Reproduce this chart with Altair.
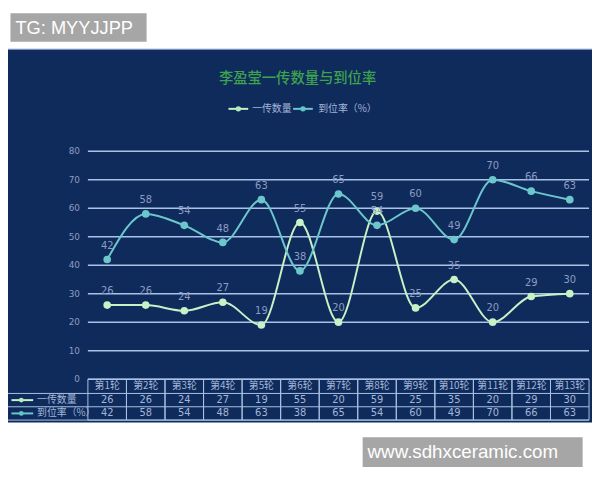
import altair as alt
import pandas as pd

# ---------------- data ----------------
rounds = ["第1轮", "第2轮", "第3轮", "第4轮", "第5轮", "第6轮", "第7轮",
          "第8轮", "第9轮", "第10轮", "第11轮", "第12轮", "第13轮"]
yichuan = [26, 26, 24, 27, 19, 55, 20, 59, 25, 35, 20, 29, 30]
daowei = [42, 58, 54, 48, 63, 38, 65, 54, 60, 49, 70, 66, 63]
series_names = ["一传数量", "到位率（%）"]
y_ticks = [0, 10, 20, 30, 40, 50, 60, 70, 80]
title_text = "李盈莹一传数量与到位率"
wm_top = "TG: MYYJJPP"
wm_bottom = "www.sdhxceramic.com"

# ---------------- styling ----------------
NAVY = "#0f2b5c"
GRID = "#a9c3e6"
LINE_COLORS = ["#c6f2c6", "#6cc7cc"]
POINT_COLORS = ["#b6ecbc", "#5ec8c8"]
LABEL = "#8d9dc2"
TABLE_TXT = "#a4b6d8"
CJK = "Noto Sans CJK SC"

W, H = 508, 231
PAD_L, PAD_T = 81, 142
OX = 88.5  # page x of plot origin

long_df = pd.DataFrame({
    "round": rounds * 2,
    "series": [series_names[0]] * len(rounds) + [series_names[1]] * len(rounds),
    "value": yichuan + daowei,
})
wide_df = pd.DataFrame({"round": rounds, "v1": yichuan, "v2": daowei})
tick_df = pd.DataFrame({"v": y_ticks})
one = pd.DataFrame({"a": [0]})

xscale = alt.Scale(type="band", domain=rounds, paddingInner=0, paddingOuter=0)
yscale = alt.Scale(domain=[0, 80], nice=False, zero=True)
cscale = alt.Scale(domain=series_names, range=LINE_COLORS)
pscale = alt.Scale(domain=series_names, range=POINT_COLORS)

XC = alt.X("round:N", scale=xscale, axis=None, bandPosition=0.5)
XB = alt.X("round:N", scale=xscale, axis=None)

# background panel
bg = alt.Chart(one).mark_rect(color=NAVY).encode(
    x=alt.value(-81), x2=alt.value(W + 5), y=alt.value(-103.5), y2=alt.value(275))
bg_top = alt.Chart(one).mark_rule(color="#8fa6d6", strokeWidth=1).encode(
    x=alt.value(-81), x2=alt.value(W + 5), y=alt.value(-103.5))

# watermarks
wm1_box = alt.Chart(one).mark_rect(color="#a6a6a6").encode(
    x=alt.value(10 - OX), x2=alt.value(148 - OX), y=alt.value(-140), y2=alt.value(-111))
wm1_txt = alt.Chart(one).mark_text(text=wm_top, color="white", font="Liberation Sans",
                                   fontSize=18.5, align="left", baseline="middle").encode(
    x=alt.value(15 - OX), y=alt.value(-125))
wm2_box = alt.Chart(one).mark_rect(color="#a6a6a6").encode(
    x=alt.value(367 - OX), x2=alt.value(590 - OX), y=alt.value(290), y2=alt.value(320))
wm2_txt = alt.Chart(one).mark_text(text=wm_bottom, color="white", font="Liberation Sans",
                                   fontSize=19, align="left", baseline="middle").encode(
    x=alt.value(372 - OX), y=alt.value(305))

# title and legend
title = alt.Chart(one).mark_text(text=title_text, color="#3ea24e", font=CJK,
                                 fontSize=14.5, fontWeight=500).encode(
    x=alt.value(301 - OX), y=alt.value(-73))
leg = []
for cx, tx, col, pcol, name in [(241, 255, LINE_COLORS[0], POINT_COLORS[0], series_names[0]),
                                (306.5, 322, LINE_COLORS[1], POINT_COLORS[1], series_names[1])]:
    leg.append(alt.Chart(one).mark_rule(color=col, strokeWidth=2).encode(
        x=alt.value(cx - 10 - OX), x2=alt.value(cx + 10 - OX), y=alt.value(-43)))
    leg.append(alt.Chart(one).mark_point(filled=True, opacity=1, color=pcol, size=30).encode(
        x=alt.value(cx - OX), y=alt.value(-43)))
    leg.append(alt.Chart(one).mark_text(text=name, color=TABLE_TXT, font=CJK, fontSize=10,
                                        align="left", baseline="middle").encode(
        x=alt.value(tx - OX), y=alt.value(-43)))

# gridlines + y labels
grid = alt.Chart(tick_df).mark_rule(color=GRID, strokeWidth=1.5).encode(
    y=alt.Y("v:Q", scale=yscale, axis=None), x=alt.value(0), x2=alt.value(W))
ylab = alt.Chart(tick_df).mark_text(color=LABEL, fontSize=9, align="right",
                                    baseline="middle", font="DejaVu Sans").encode(
    y=alt.Y("v:Q", scale=yscale, axis=None), x=alt.value(-8), text="v:Q")

# lines, points, labels
lines = alt.Chart(long_df).mark_line(interpolate="monotone", strokeWidth=2).encode(
    x=XC, y=alt.Y("value:Q", scale=yscale, axis=None),
    color=alt.Color("series:N", scale=cscale, legend=None))
pts = alt.Chart(long_df).mark_point(filled=True, opacity=1, size=60).encode(
    x=XC, y=alt.Y("value:Q", scale=yscale, axis=None),
    color=alt.Color("series:N", scale=pscale, legend=None))
vlab = alt.Chart(long_df).mark_text(color=LABEL, fontSize=10, dy=-14,
                                    font="DejaVu Sans").encode(
    x=XC, y=alt.Y("value:Q", scale=yscale, axis=None), text="value:Q")

# table
R0, R1, R2, R3 = 231, 245.5, 259, 272.5
cells = alt.Chart(wide_df).mark_rect(fill=NAVY, fillOpacity=0, stroke=GRID, strokeWidth=1).encode(
    x=XB, y=alt.value(R0), y2=alt.value(R3))
hrules = alt.Chart(one).mark_rule(color=GRID, strokeWidth=1).encode(
    x=alt.value(-81.5), x2=alt.value(W), y=alt.value(R1))
hrules2 = alt.Chart(one).mark_rule(color=GRID, strokeWidth=1).encode(
    x=alt.value(-81.5), x2=alt.value(W), y=alt.value(R2))
hrules3 = alt.Chart(one).mark_rule(color=GRID, strokeWidth=1).encode(
    x=alt.value(-81.5), x2=alt.value(W), y=alt.value(R3))
vleft = alt.Chart(one).mark_rule(color=GRID, strokeWidth=1).encode(
    x=alt.value(-81.5), y=alt.value(R1), y2=alt.value(R3))
head = alt.Chart(wide_df).mark_text(color=TABLE_TXT, font=CJK, fontSize=10,
                                    baseline="middle").encode(
    x=XC, y=alt.value((R0 + R1) / 2), text="round:N")
row1 = alt.Chart(wide_df).mark_text(color=TABLE_TXT, fontSize=10, font="DejaVu Sans",
                                    baseline="middle").encode(
    x=XC, y=alt.value((R1 + R2) / 2), text="v1:Q")
row2 = alt.Chart(wide_df).mark_text(color=TABLE_TXT, fontSize=10, font="DejaVu Sans",
                                    baseline="middle").encode(
    x=XC, y=alt.value((R2 + R3) / 2), text="v2:Q")
tleg = []
for yy, col, pcol, name in [((R1 + R2) / 2, LINE_COLORS[0], POINT_COLORS[0], series_names[0]),
                            ((R2 + R3) / 2, LINE_COLORS[1], POINT_COLORS[1], series_names[1])]:
    tleg.append(alt.Chart(one).mark_rule(color=col, strokeWidth=2).encode(
        x=alt.value(11 - OX), x2=alt.value(33 - OX), y=alt.value(yy)))
    tleg.append(alt.Chart(one).mark_point(filled=True, opacity=1, color=pcol, size=22).encode(
        x=alt.value(21 - OX), y=alt.value(yy)))
    tleg.append(alt.Chart(one).mark_text(text=name, color=TABLE_TXT, font=CJK, fontSize=10,
                                         align="left", baseline="middle").encode(
        x=alt.value(37 - OX), y=alt.value(yy)))

chart = alt.layer(
    bg, bg_top, wm1_box, wm1_txt, wm2_box, wm2_txt, title, *leg,
    grid, ylab, cells, hrules, hrules2, hrules3, vleft, head, row1, row2, *tleg,
    lines, pts, vlab,
).properties(
    width=W, height=H,
    padding={"left": PAD_L, "top": PAD_T, "right": 3, "bottom": 99},
    autosize=alt.AutoSizeParams(type="none"),
    background="white",
).configure_view(stroke=None)

chart.save("out.html", embed_options={"renderer": "svg", "actions": False})
